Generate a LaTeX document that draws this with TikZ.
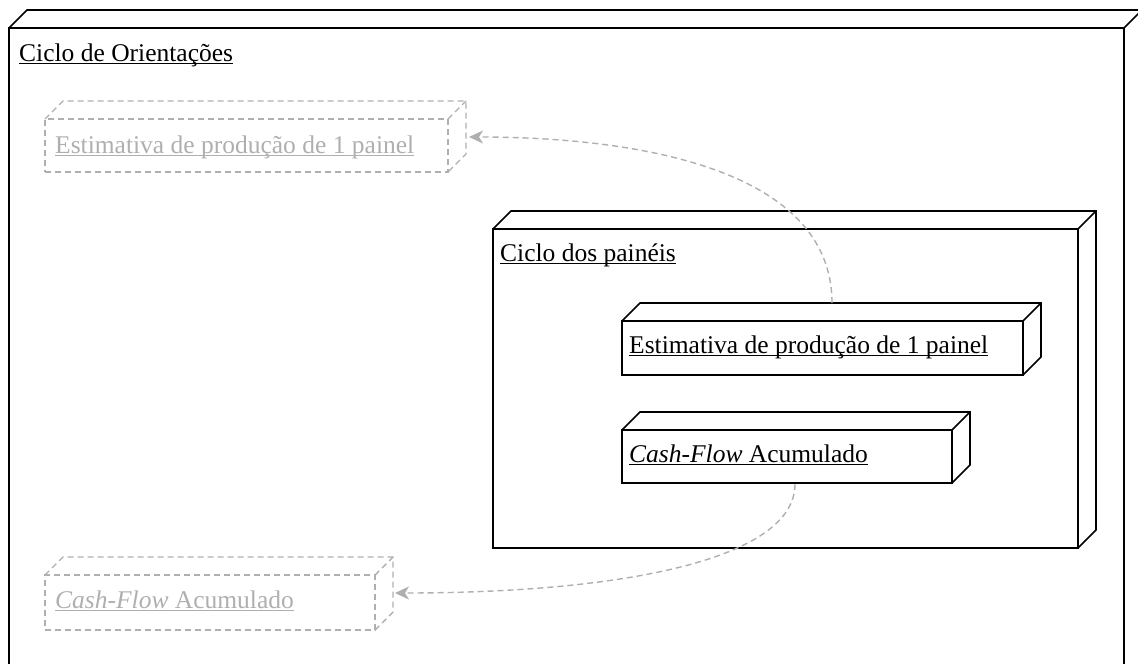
\documentclass[tikz,border=0pt]{standalone}
\usepackage{fontspec}
\setmainfont{Liberation Serif}
\usetikzlibrary{arrows.meta,calc}
\newcommand\myul[1]{\setbox0\hbox{#1}\rlap{\rule[-3pt]{\wd0}{1.3pt}}\box0}
\definecolor{ghost}{RGB}{175,175,175}
\tikzset{
 box3d/.style={draw, rectangle, inner sep=0pt, outer sep=0pt, line width=1.6pt, anchor=north west},
 ghostbox/.style={box3d, draw=ghost, dash pattern=on 6pt off 4pt, line width=1.4pt},
 blackdepth/.style={line width=1.6pt},
 ghostdepth/.style={draw=ghost, dash pattern=on 6pt off 4pt, line width=1.4pt},
 lbl/.style={anchor=base west, inner sep=0pt, font=\fontsize{25.5}{30}\selectfont},
 ghostlbl/.style={lbl, text=ghost},
 conn/.style={draw=ghost, line width=1.4pt, dash pattern=on 6pt off 4pt, -{Stealth[length=14pt,width=13pt,inset=4pt]}},
}
\newcommand\depthlines[2]{%
 \draw[#1] (#2.north west) -- ++(18,-18) -- ($(#2.north east)+(18,-18)$) -- ($(#2.south east)+(18,-18)$) -- (#2.south east);
 \draw[#1] (#2.north east) -- ++(18,-18);}
\begin{document}
\begin{tikzpicture}[x=1pt,y=-1pt]
\useasboundingbox (0,0) rectangle (1138,664);
\clip (0,0) rectangle (1138,664);
% outer node
\node[box3d, minimum width=1115pt, minimum height=662pt] (outer) at (9,28) {};
\depthlines{blackdepth}{outer}
\node[lbl] (outerlbl) at (19,61) {\myul{Ciclo de Orientações}};
% inner node
\node[box3d, minimum width=585pt, minimum height=319pt] (inner) at (493,229) {};
\depthlines{blackdepth}{inner}
\node[lbl] (innerlbl) at (500,261) {\myul{Ciclo dos painéis}};
% node 1
\node[box3d, minimum width=401pt, minimum height=54pt] (n1) at (622,321) {};
\depthlines{blackdepth}{n1}
\node[lbl] (n1lbl) at (629,353) {\myul{Estimativa de produção de 1 painel}};
% node 2
\node[box3d, minimum width=330pt, minimum height=53pt] (n2) at (622,430) {};
\depthlines{blackdepth}{n2}
\node[lbl] (n2lbl) at (629,462) {\myul{\textit{Cash-Flow} Acumulado}};
% ghost 1
\node[ghostbox, minimum width=403pt, minimum height=53pt] (g1) at (45,119) {};
\depthlines{ghostdepth}{g1}
\node[ghostlbl] (g1lbl) at (55,153) {\myul{Estimativa de produção de 1 painel}};
% ghost 2
\node[ghostbox, minimum width=330pt, minimum height=55pt] (g2) at (45,575) {};
\depthlines{ghostdepth}{g2}
\node[ghostlbl] (g2lbl) at (55,608) {\myul{\textit{Cash-Flow} Acumulado}};
% connectors
\draw[conn] ($(n1.north)+(9.5,-18)$) .. controls ($(n1.north)+(9.5,-151)$) and ($(g1.east)+(192,-8.5)$) .. ($(g1.east)+(21,-8.5)$);
\draw[conn] ($(n2.south)+(8,1)$) .. controls ($(n2.south)+(8,77)$) and ($(g2.east)+(245,-9.5)$) .. ($(g2.east)+(20,-9.5)$);
\end{tikzpicture}
\end{document}
